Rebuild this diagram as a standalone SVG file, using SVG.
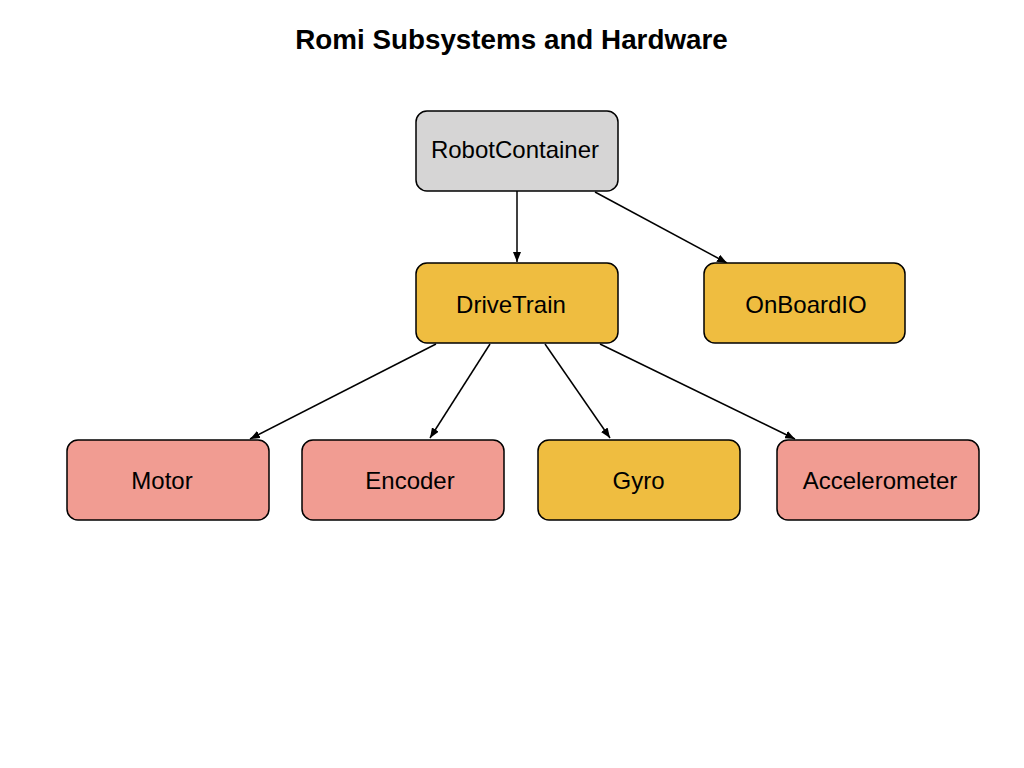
<svg xmlns="http://www.w3.org/2000/svg" width="1024" height="768" viewBox="0 0 1024 768">
<style>
.n{stroke:#000;stroke-width:1.5}
.g{fill:#d6d5d5}
.y{fill:#efbd40}
.p{fill:#f19c92}
.t{font-family:"Liberation Sans",Arial,sans-serif;font-size:24px;fill:#000;text-anchor:middle}
.h{font-family:"Liberation Sans",Arial,sans-serif;font-size:27.8px;font-weight:bold;fill:#000;text-anchor:middle}
.c{stroke:#000;stroke-width:1.5;fill:none;marker-end:url(#a)}
</style>
<defs>
<marker id="a" viewBox="0 0 10 8" refX="10" refY="4" markerWidth="10" markerHeight="8" markerUnits="userSpaceOnUse" orient="auto">
<path d="M0,0L10,4L0,8z" fill="#000"/>
</marker>
</defs>
<rect width="1024" height="768" fill="#fff"/>
<text class="h" x="511.500" y="49">Romi Subsystems and Hardware</text>
<g id="connectors">
<line class="c" x1="517" y1="191" x2="517" y2="262"/>
<line class="c" x1="595" y1="192" x2="727" y2="263"/>
<line class="c" x1="436" y1="344" x2="250" y2="439"/>
<line class="c" x1="490" y1="344" x2="430" y2="438"/>
<line class="c" x1="545" y1="344" x2="610" y2="438"/>
<line class="c" x1="600" y1="344" x2="795" y2="439"/>
</g>
<g id="RobotContainer"><rect class="n g" x="416" y="111" width="202" height="80" rx="11"/><text class="t" x="515" y="158">RobotContainer</text></g>
<g id="DriveTrain"><rect class="n y" x="416" y="263" width="202" height="80" rx="11"/><text class="t" x="511" y="313">DriveTrain</text></g>
<g id="OnBoardIO"><rect class="n y" x="704" y="263" width="201" height="80" rx="11"/><text class="t" x="806" y="313">OnBoardIO</text></g>
<g id="Motor"><rect class="n p" x="67" y="440" width="202" height="80" rx="11"/><text class="t" x="162" y="489">Motor</text></g>
<g id="Encoder"><rect class="n p" x="302" y="440" width="202" height="80" rx="11"/><text class="t" x="410" y="489">Encoder</text></g>
<g id="Gyro"><rect class="n y" x="538" y="440" width="202" height="80" rx="11"/><text class="t" x="638.500" y="489">Gyro</text></g>
<g id="Accelerometer"><rect class="n p" x="777" y="440" width="202" height="80" rx="11"/><text class="t" x="880" y="489">Accelerometer</text></g>
</svg>
